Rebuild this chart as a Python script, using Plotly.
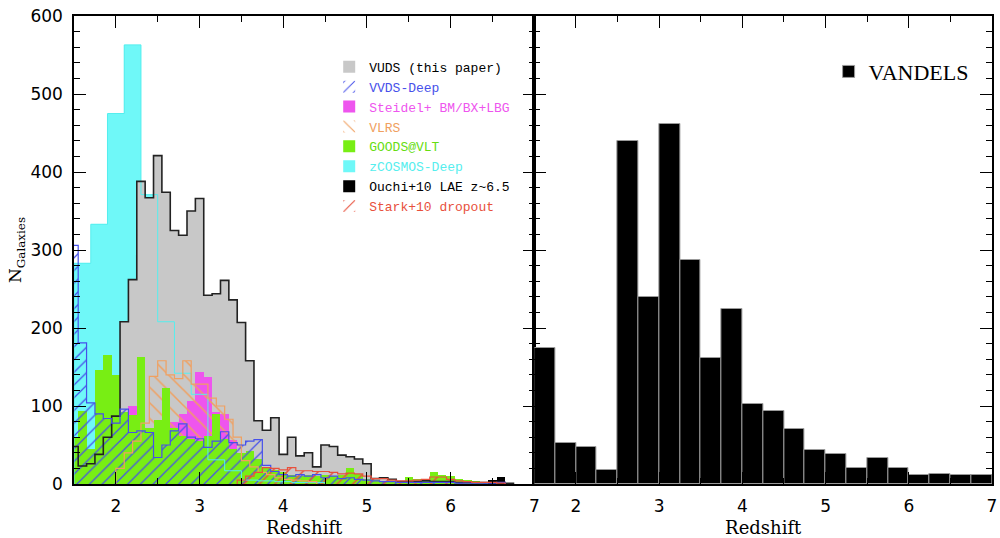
import plotly.graph_objects as go

# ---------------- data (left panel: literature samples, 0.1 bins unless noted) -------------
vuds_z0 = 1.5
vuds = [48, 23, 26, 38, 60, 87, 208, 262, 388, 367, 421, 374, 325, 319, 350, 366,
        242, 244, 261, 236, 207, 158, 81, 69, 85, 38, 60, 36, 40, 22, 50, 48, 37, 35,
        32, 26, 7, 8, 6, 3, 3, 3, 4, 3, 3, 3, 2, 2, 2, 2, 2, 2, 1]

vvds_z0 = 1.5
vvds = [306, 181, 104, 90, 84, 78, 96, 66, 68, 66, 34, 50, 68, 77, 60, 58, 47, 55, 67,
        53, 50, 55, 57, 24, 16, 12, 10, 12, 10, 12, 8, 10, 7, 8, 6, 5, 4, 3, 3, 2, 2,
        2, 2, 2, 2, 2, 1, 1, 1, 1, 1, 2]

steidel_z0 = 1.5
steidel = [38, 30, 45, 35, 40, 55, 75, 100, 68, 65, 70, 72, 80, 90, 107, 143, 137, 92,
           90, 57, 38, 20, 12, 8, 5, 3, 2, 2]

vlrs_z0 = 2.05
vlrs = [20, 40, 55, 78, 138, 158, 140, 135, 158, 128, 128, 110, 100, 83, 60, 30, 22,
        15, 12, 8, 6, 5, 4, 3]

goods_z0 = 1.5
goods = [60, 93, 45, 146, 165, 140, 92, 88, 163, 72, 82, 123, 72, 62, 58, 55, 62, 90,
         58, 45, 40, 42, 32, 22, 18, 15, 12, 10, 12, 10, 12, 10, 12, 20, 13, 6, 5, 4,
         3, 4, 9, 7, 5, 15, 12, 10, 7, 5, 4, 2]

zcosmos_z0 = 1.6      # 0.2 bins
zcosmos = [283, 333, 475, 563, 371, 208, 142, 115, 31, 17, 5, 4, 3, 2, 2]

ouchi_z0 = 6.5
ouchi = [5, 9]

stark_z0 = 3.5
stark = [5, 10, 15, 21, 20, 18, 21, 17, 17, 16, 16, 15, 13, 14, 13, 10, 7, 7, 5, 4, 4,
         5, 6, 9, 9, 6, 4, 3, 2, 2, 2, 1]

# ---------------- data (right panel: VANDELS, 0.25 bins from z=1.5) ----------------------
vandels_z0 = 1.625
vandels = [175, 53, 47, 18, 440, 240, 462, 287, 161, 225, 102, 94, 71, 43, 38, 21,
           33, 21, 11, 13, 11, 11]

# ---------------- colours ----------------
C_GRAY = "#c8c8c8"
C_BLUE = "#4650ea"
C_MAG = "#ee55ee"
C_ORA = "#f0a060"
C_GRN = "#78ee14"
C_CYAN = "#6ff8f8"
C_RED = "#e8503c"


def centers(z0, counts, w):
    return [round(z0 + i * w, 4) for i in range(len(counts))]


def step_xy(z0, counts, w):
    xs, ys, prev = [], [], 0
    for c, n in zip(centers(z0, counts, w), counts):
        l, r = c - w / 2, c + w / 2
        xs += [l, l, r]
        ys += [prev, n, n]
        prev = n
    xs.append(xs[-1])
    ys.append(0)
    return xs, ys


def lab(text, color):
    return f"<span style='color:{color}'>{text}</span>"


fig = go.Figure()


def bar(z0, counts, w, name, color, rank, pattern=None, psize=9):
    kw = dict(color=color, line=dict(width=0))
    if pattern:
        kw = dict(color=color, line=dict(width=0),
                  pattern=dict(shape=pattern, fgcolor=color, size=psize,
                               solidity=0.14, fillmode="replace"))
    fig.add_trace(go.Bar(x=centers(z0, counts, w), y=counts, width=w, name=name,
                         marker=kw, legendrank=rank, xaxis="x", yaxis="y",
                         hoverinfo="skip"))


bar(zcosmos_z0, zcosmos, 0.2, lab("zCOSMOS-Deep", "#55eeee"), C_CYAN, 6)
bar(vuds_z0, vuds, 0.1, "VUDS (this paper)", C_GRAY, 1)
bar(steidel_z0, steidel, 0.1, lab("Steidel+ BM/BX+LBG", C_MAG), C_MAG, 3)
bar(vlrs_z0, vlrs, 0.1, lab("VLRS", C_ORA), C_ORA, 4, pattern="\\", psize=11)
bar(goods_z0, goods, 0.1, lab("GOODS@VLT", "#66dd11"), C_GRN, 5)
bar(vvds_z0, vvds, 0.1, lab("VVDS-Deep", C_BLUE), C_BLUE, 2, pattern="/", psize=9)
bar(stark_z0, stark, 0.1, lab("Stark+10 dropout", C_RED), C_RED, 8, pattern="/", psize=11)
bar(ouchi_z0, ouchi, 0.1, "Ouchi+10 LAE z~6.5", "black", 7)

# step outlines
for z0, counts, w, col, lw in [
    (zcosmos_z0, zcosmos, 0.2, "#55eeee", 1.0),
    (vuds_z0, vuds, 0.1, "#222222", 1.6),
    (vlrs_z0, vlrs, 0.1, C_ORA, 1.2),
    (vvds_z0, vvds, 0.1, C_BLUE, 1.2),
    (stark_z0, stark, 0.1, C_RED, 1.2),
]:
    xs, ys = step_xy(z0, counts, w)
    fig.add_trace(go.Scatter(x=xs, y=ys, mode="lines", line=dict(color=col, width=lw),
                             showlegend=False, hoverinfo="skip", xaxis="x", yaxis="y"))

# right panel
fig.add_trace(go.Bar(x=centers(vandels_z0, vandels, 0.25), y=vandels, width=0.25,
                     name="VANDELS", legend="legend2",
                     marker=dict(color="black", line=dict(color="#9a9a9a", width=1)),
                     xaxis="x2", yaxis="y2", hoverinfo="skip"))

tickfont = dict(family="DejaVu Sans", size=17, color="black")
titlefont = dict(family="DejaVu Serif", size=18, color="black")

xcommon = dict(range=[1.5, 7], showline=True, linecolor="black", linewidth=1.5,
               mirror="allticks", ticks="inside", ticklen=12, tickwidth=1.2,
               tickcolor="black", tickvals=[2, 3, 4, 5, 6, 7], tickfont=tickfont,
               showgrid=False, zeroline=False, ticklabelstandoff=6,
               minor=dict(dtick=0.5, tick0=1.5, ticks="inside", ticklen=6,
                          tickcolor="black", tickwidth=1.2),
               title=dict(text="Redshift", font=titlefont, standoff=6))
ycommon = dict(range=[0, 600], showline=True, linecolor="black", linewidth=1.5,
               mirror="allticks", ticks="inside", ticklen=12, tickwidth=1.2,
               tickcolor="black", dtick=100, tickfont=tickfont, showgrid=False,
               zeroline=False,
               minor=dict(dtick=20, ticks="inside", ticklen=6, tickcolor="black",
                          tickwidth=1.2))

fig.update_layout(
    width=1000, height=538,
    margin=dict(l=74, r=3, t=16, b=53),
    plot_bgcolor="white", paper_bgcolor="white",
    barmode="overlay", bargap=0,
    xaxis=dict(domain=[0, 0.5015], anchor="y", **xcommon),
    xaxis2=dict(domain=[0.5015, 1], anchor="y2", **xcommon),
    yaxis=dict(anchor="x", ticklabelstandoff=6,
               title=dict(text="N<sub>Galaxies</sub>",
                          font=dict(family="DejaVu Serif", size=17, color="black"),
                          standoff=4),
               **ycommon),
    yaxis2=dict(anchor="x2", showticklabels=False, **ycommon),
    legend=dict(x=0.278, y=0.9235, xanchor="left", yanchor="top",
                bgcolor="rgba(0,0,0,0)", borderwidth=0, tracegroupgap=0,
                font=dict(family="Liberation Mono", size=13, color="black")),
    legend2=dict(x=0.822, y=0.926, xanchor="left", yanchor="top",
                 bgcolor="rgba(0,0,0,0)", borderwidth=0,
                 font=dict(family="Liberation Serif", size=22, color="black")),
)

fig.write_html("out.html")
